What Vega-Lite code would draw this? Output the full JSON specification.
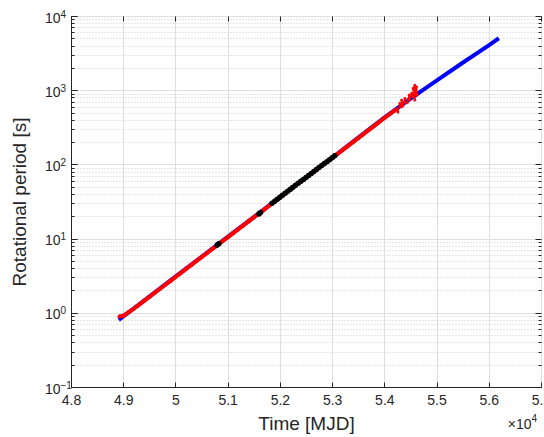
{
  "$schema": "https://vega.github.io/schema/vega-lite/v6.json",
  "width": 470,
  "height": 371,
  "autosize": "none",
  "padding": {"left": 71, "top": 16, "right": 3, "bottom": 50},
  "background": "white",
  "config": {
    "font": "Liberation Sans",
    "view": {"stroke": "#262626", "strokeWidth": 1},
    "axis": {
      "labelFont": "Liberation Sans",
      "titleFont": "Liberation Sans",
      "labelColor": "#262626",
      "titleColor": "#262626",
      "tickColor": "#262626",
      "domainColor": "#262626",
      "labelFontSize": 14,
      "titleFontSize": 19,
      "titleFontWeight": "normal"
    }
  },
  "datasets": {
    "blue": [
      {"t": 48914, "p": 0.804},
      {"t": 49500, "p": 1.656},
      {"t": 50000, "p": 3.069},
      {"t": 50500, "p": 5.689},
      {"t": 51000, "p": 10.52},
      {"t": 51500, "p": 19.5},
      {"t": 52000, "p": 36.14},
      {"t": 52500, "p": 66.83},
      {"t": 53000, "p": 123.0},
      {"t": 53500, "p": 229.1},
      {"t": 54000, "p": 426.6},
      {"t": 54500, "p": 767.4},
      {"t": 55000, "p": 1349},
      {"t": 55500, "p": 2344},
      {"t": 56000, "p": 4027},
      {"t": 56193, "p": 5012}
    ],
    "red": [
      {"t": 48930, "p": 0.891},
      {"t": 49000, "p": 0.91},
      {"t": 49100, "p": 1.012},
      {"t": 49200, "p": 1.134},
      {"t": 49300, "p": 1.282},
      {"t": 49400, "p": 1.445},
      {"t": 49500, "p": 1.637},
      {"t": 49600, "p": 1.849},
      {"t": 49700, "p": 2.093},
      {"t": 49800, "p": 2.37},
      {"t": 49900, "p": 2.678},
      {"t": 50000, "p": 3.033},
      {"t": 50100, "p": 3.427},
      {"t": 50200, "p": 3.88},
      {"t": 50300, "p": 4.384},
      {"t": 50400, "p": 4.965},
      {"t": 50500, "p": 5.621},
      {"t": 50600, "p": 6.352},
      {"t": 50700, "p": 7.193},
      {"t": 50800, "p": 8.126},
      {"t": 50900, "p": 9.202},
      {"t": 51000, "p": 10.39},
      {"t": 51100, "p": 11.77},
      {"t": 51200, "p": 13.33},
      {"t": 51300, "p": 15.06},
      {"t": 51400, "p": 17.05},
      {"t": 51500, "p": 19.27},
      {"t": 51600, "p": 21.82},
      {"t": 51700, "p": 24.65},
      {"t": 51800, "p": 27.92},
      {"t": 51900, "p": 31.54},
      {"t": 52000, "p": 35.71},
      {"t": 52100, "p": 40.36},
      {"t": 52200, "p": 45.7},
      {"t": 52300, "p": 51.63},
      {"t": 52400, "p": 58.46},
      {"t": 52500, "p": 66.05},
      {"t": 52600, "p": 74.63},
      {"t": 52700, "p": 84.31},
      {"t": 52800, "p": 95.25},
      {"t": 52900, "p": 107.6},
      {"t": 53000, "p": 121.6},
      {"t": 53100, "p": 137.7},
      {"t": 53200, "p": 155.9},
      {"t": 53300, "p": 176.6},
      {"t": 53400, "p": 199.9},
      {"t": 53500, "p": 226.4},
      {"t": 53600, "p": 256.4},
      {"t": 53700, "p": 290.3},
      {"t": 53800, "p": 328.8},
      {"t": 53900, "p": 372.3},
      {"t": 54000, "p": 421.6},
      {"t": 54100, "p": 474.1},
      {"t": 54200, "p": 533.2}
    ],
    "tail": [
      {"i": 1, "t": 54200, "p": 533.2},
      {"i": 2, "t": 54234, "p": 566},
      {"i": 3, "t": 54260, "p": 509},
      {"i": 4, "t": 54297, "p": 661},
      {"i": 5, "t": 54329, "p": 594},
      {"i": 6, "t": 54329, "p": 733},
      {"i": 7, "t": 54360, "p": 627},
      {"i": 8, "t": 54393, "p": 773},
      {"i": 9, "t": 54393, "p": 695},
      {"i": 10, "t": 54437, "p": 674},
      {"i": 11, "t": 54475, "p": 855},
      {"i": 12, "t": 54488, "p": 733},
      {"i": 13, "t": 54521, "p": 902},
      {"i": 14, "t": 54552, "p": 811},
      {"i": 15, "t": 54552, "p": 1054},
      {"i": 16, "t": 54584, "p": 1169},
      {"i": 17, "t": 54584, "p": 733},
      {"i": 18, "t": 54617, "p": 1109},
      {"i": 19, "t": 54628, "p": 855}
    ],
    "black": [
      {"t": 50800, "p": 8.22},
      {"t": 50830, "p": 8.53},
      {"t": 51600, "p": 21.5},
      {"t": 51630, "p": 22.4},
      {"t": 51850, "p": 30.06},
      {"t": 51900, "p": 31.92},
      {"t": 51950, "p": 33.96},
      {"t": 52000, "p": 36.14},
      {"t": 52050, "p": 38.46},
      {"t": 52100, "p": 40.83},
      {"t": 52150, "p": 43.45},
      {"t": 52200, "p": 46.24},
      {"t": 52250, "p": 49.09},
      {"t": 52300, "p": 52.24},
      {"t": 52350, "p": 55.59},
      {"t": 52400, "p": 59.16},
      {"t": 52450, "p": 62.81},
      {"t": 52500, "p": 66.83},
      {"t": 52550, "p": 70.96},
      {"t": 52600, "p": 75.51},
      {"t": 52650, "p": 80.35},
      {"t": 52700, "p": 85.31},
      {"t": 52750, "p": 90.78},
      {"t": 52800, "p": 96.38},
      {"t": 52850, "p": 102.6},
      {"t": 52900, "p": 108.9},
      {"t": 52950, "p": 115.9},
      {"t": 53000, "p": 123.0},
      {"t": 53050, "p": 130.9}
    ]
  },
  "layer": [
    {
      "data": {"name": "blue"},
      "mark": {"type": "line", "color": "#0000ff", "strokeWidth": 4, "clip": true},
      "encoding": {
        "x": {
          "field": "t", "type": "quantitative",
          "scale": {"domain": [48000, 57000], "nice": false, "zero": false},
          "axis": {
            "orient": "bottom",
            "values": [48000, 49000, 50000, 51000, 52000, 53000, 54000, 55000, 56000, 57000],
            "labelExpr": "'' + (round(datum.value / 1000) / 10)",
            "title": "Time [MJD]",
            "titlePadding": 7,
            "grid": true,
            "gridColor": "#dfdfdf",
            "gridWidth": 1,
            "tickSize": -5,
            "labelPadding": 11,
            "labelFlush": false,
            "labelOverlap": false
          }
        },
        "y": {
          "field": "p", "type": "quantitative",
          "scale": {"type": "log", "domain": [0.1, 10000], "nice": false},
          "axis": {
            "orient": "left",
            "values": [0.1, 0.2, 0.3, 0.4, 0.5, 0.6, 0.7, 0.8, 0.9, 1, 2, 3, 4, 5, 6, 7, 8, 9, 10, 20, 30, 40, 50, 60, 70, 80, 90, 100, 200, 300, 400, 500, 600, 700, 800, 900, 1000, 2000, 3000, 4000, 5000, 6000, 7000, 8000, 9000, 10000],
            "labelExpr": "indexof([0.1,1,10,100,1000,10000], datum.value) >= 0 ? '10' : ''",
            "labelOffset": 2,
            "title": "Rotational period [s]",
            "titlePadding": 15,
            "grid": true,
            "gridColor": {"condition": {"test": "indexof([0.1,1,10,100,1000,10000], datum.value) >= 0", "value": "#dfdfdf"}, "value": "#cccccc"},
            "gridDash": {"condition": {"test": "indexof([0.1,1,10,100,1000,10000], datum.value) >= 0", "value": []}, "value": [1, 2]},
            "tickSize": {"condition": {"test": "indexof([0.1,1,10,100,1000,10000], datum.value) >= 0", "value": -6}, "value": -3},
            "labelPadding": 17,
            "labelFlush": false,
            "labelOverlap": false
          }
        }
      }
    },
    {
      "data": {"name": "red"},
      "mark": {"type": "line", "color": "#ff0000", "strokeWidth": 4, "point": {"filled": true, "size": 18, "color": "#ff0000"}},
      "encoding": {
        "x": {
          "field": "t", "type": "quantitative",
          "axis": {
            "orient": "top",
            "values": [48000, 49000, 50000, 51000, 52000, 53000, 54000, 55000, 56000, 57000],
            "labels": false, "title": null, "grid": false, "domain": false, "tickSize": -5
          }
        },
        "y": {
          "field": "p", "type": "quantitative",
          "axis": {
            "orient": "right",
            "values": [0.1, 0.2, 0.3, 0.4, 0.5, 0.6, 0.7, 0.8, 0.9, 1, 2, 3, 4, 5, 6, 7, 8, 9, 10, 20, 30, 40, 50, 60, 70, 80, 90, 100, 200, 300, 400, 500, 600, 700, 800, 900, 1000, 2000, 3000, 4000, 5000, 6000, 7000, 8000, 9000, 10000],
            "labels": false, "title": null, "grid": false, "domain": false,
            "tickSize": {"condition": {"test": "indexof([0.1,1,10,100,1000,10000], datum.value) >= 0", "value": -6}, "value": -3}
          }
        }
      }
    },
    {
      "data": {"name": "tail"},
      "mark": {"type": "line", "color": "#ff0000", "strokeWidth": 1.5, "point": {"filled": true, "size": 8, "color": "#ff0000"}},
      "encoding": {
        "x": {
          "field": "t", "type": "quantitative",
          "axis": {
            "orient": "bottom",
            "values": [57000],
            "labelExpr": "'×10'",
            "labelAlign": "right",
            "labelOffset": -10,
            "labelFontSize": 14,
            "labelPadding": 30,
            "ticks": false, "domain": false, "grid": false, "title": null,
            "labelFlush": false, "labelOverlap": false
          }
        },
        "y": {
          "field": "p", "type": "quantitative",
          "axis": {
            "orient": "left",
            "values": [0.1, 1, 10, 100, 1000, 10000],
            "labelExpr": "datum.value == 0.1 ? '−1' : datum.value == 1 ? '0' : datum.value == 10 ? '1' : datum.value == 100 ? '2' : datum.value == 1000 ? '3' : '4'",
            "labelAlign": "left",
            "labelFontSize": 10,
            "labelOffset": -2,
            "labelPadding": 17,
            "tickSize": -6,
            "domain": false, "grid": false, "title": null,
            "labelFlush": false, "labelOverlap": false
          }
        },
        "order": {"field": "i", "type": "quantitative"}
      }
    },
    {
      "data": {"name": "black"},
      "mark": {"type": "circle", "color": "#000000", "size": 30, "opacity": 1},
      "encoding": {
        "x": {
          "field": "t", "type": "quantitative",
          "axis": {
            "orient": "bottom",
            "values": [57000],
            "labelExpr": "'4'",
            "labelAlign": "left",
            "labelOffset": -10,
            "labelFontSize": 10,
            "labelPadding": 26,
            "ticks": false, "domain": false, "grid": false, "title": null,
            "labelFlush": false, "labelOverlap": false
          }
        },
        "y": {"field": "p", "type": "quantitative", "axis": null}
      }
    }
  ],
  "resolve": {"axis": {"x": "independent", "y": "independent"}}
}
